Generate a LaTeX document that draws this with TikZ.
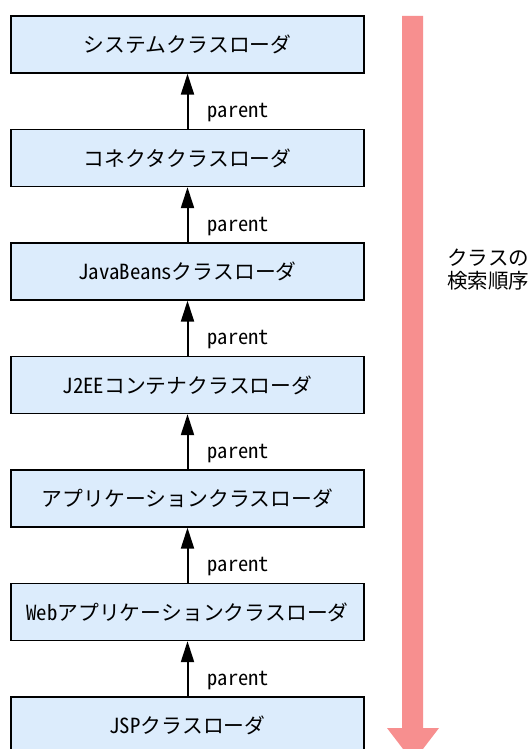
\documentclass[tikz,border=0pt]{standalone}
\usepackage{fontspec}
\setmainfont{Noto Sans Mono CJK JP}
\usetikzlibrary{arrows.meta}
\definecolor{boxfill}{RGB}{220,236,252}
\definecolor{pinkarrow}{RGB}{247,143,143}
\tikzset{
  loader/.style={draw=black, line width=1.3pt, fill=boxfill, minimum width=353pt,
    minimum height=57pt, inner sep=0pt, font=\fontsize{20.8}{23}\selectfont},
  parentarrow/.style={-{Triangle[length=21pt,width=13pt]}, line width=2pt},
  plabel/.style={anchor=base west, inner sep=0pt, font=\fontsize{20.5}{23}\selectfont},
  sidelabel/.style={anchor=west, align=left, inner sep=0pt, font=\fontsize{20.5}{23}\selectfont}
}
\begin{document}
\begin{tikzpicture}[x=1pt,y=-1pt]
\useasboundingbox (0,0) rectangle (531,749);
\clip (0,0) rectangle (531,749);
\fill[white] (0,0) rectangle (531,749);
% search order arrow
\fill[pinkarrow] (402,16) -- (423,16) -- (423,728) -- (439,728) -- (413,762) -- (387,728) -- (402,728) -- cycle;
\node[sidelabel] (order) at (447,269.5) {クラスの\\検索順序};
% loaders
\node[loader] (b1) at (187.5,44.5) {システムクラスローダ};
\node[loader] (b2) at (187.5,158) {コネクタクラスローダ};
\node[loader] (b3) at (187.5,271.5) {JavaBeansクラスローダ};
\node[loader] (b4) at (187.5,385) {J2EEコンテナクラスローダ};
\node[loader] (b5) at (187.5,498.5) {アプリケーションクラスローダ};
\node[loader] (b6) at (187.5,612) {Webアプリケーションクラスローダ};
\node[loader] (b7) at (187.5,725.5) {JSPクラスローダ};
% parent links
\foreach \lo/\hi in {b2/b1,b3/b2,b4/b3,b5/b4,b6/b5,b7/b6}{
  \draw[parentarrow] (\lo.north) -- (\hi.south);
  \node[plabel] (p\lo) at ([xshift=20pt,yshift=11pt]\lo.north) {parent};
}
\end{tikzpicture}
\end{document}
